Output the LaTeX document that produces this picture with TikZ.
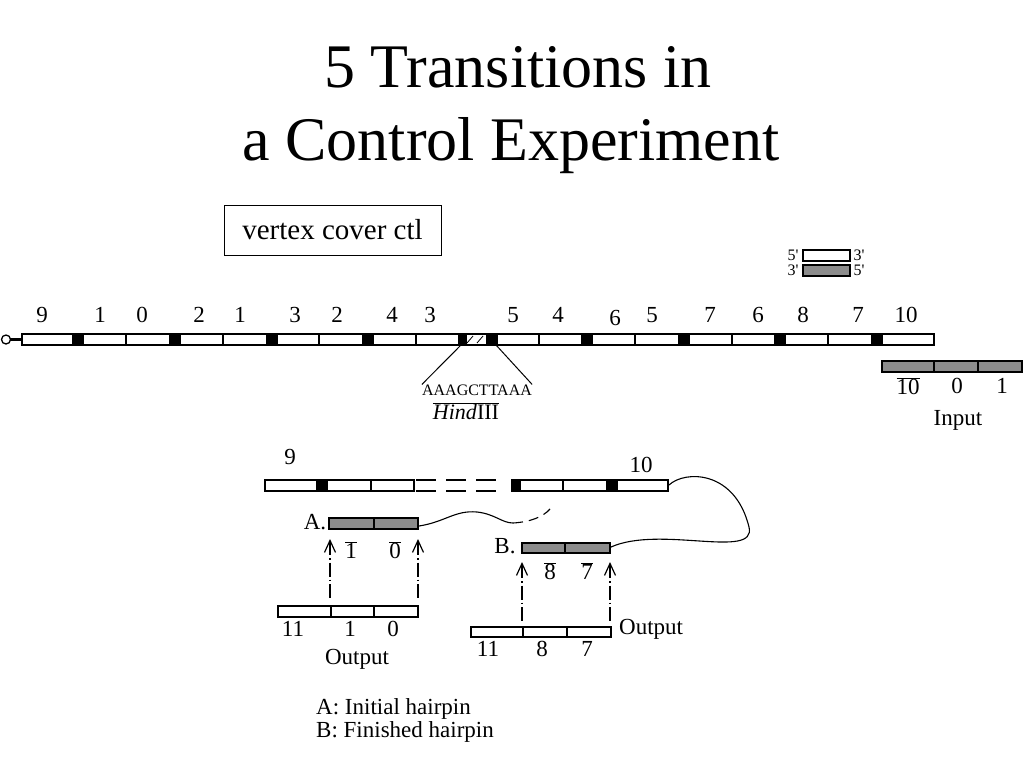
\documentclass[tikz,border=0pt]{standalone}
\usepackage{fontspec}
\setmainfont{Liberation Serif}
\usetikzlibrary{arrows.meta}
\newcommand{\fs}[1]{\fontsize{#1}{#1}\selectfont}
\newcommand{\ovl}[1]{$\overline{\mbox{#1}}$}
\newcommand{\pr}{\textquotesingle}

\begin{document}
\begin{tikzpicture}[x=1pt,y=-1pt,
    strand/.style={draw,line width=1.3pt,fill=white},
    shaded/.style={draw,line width=1.3pt,fill=black!45},
    blk/.style={draw,line width=1.3pt,fill=black},
    lbl/.style={font=\fs{23},inner sep=0pt},
    small/.style={font=\fs{16},inner sep=0pt},
    probe/.style={line width=1.2pt,dash pattern=on 14pt off 3pt on 1.5pt off 3pt,
        {Straight Barb[length=12pt,width=11pt,line width=1.2pt]}-}]
    \useasboundingbox (0,0) rectangle (1024,768);

    % title and box
    \node[font=\fs{62},anchor=base,inner sep=0pt] (title1) at (518,87) {5 Transitions in};
    \node[font=\fs{62},anchor=base,inner sep=0pt] (title2) at (511,160) {a Control Experiment};
    \node[draw,line width=1pt,minimum width=217pt,minimum height=50pt,font=\fs{29}] (ctl) at (332.5,230) {vertex cover ctl};

    % long strand
    \draw[line width=2.5pt] (10,339.5) -- (22,339.5);
    \draw[line width=1.3pt,fill=white] (6,339.5) circle (4.5);
    \draw[strand] (22,334) rectangle (934,345);
    \foreach \x in {126,223,319,416,539,635,732,828}
        \draw[line width=1.3pt] (\x,334) -- (\x,345);
    \foreach \x in {73,170,267,363,582,679,775,872}
        \draw[blk] (\x,334) rectangle ++(10,11);
    \draw[blk] (459,334) rectangle (466,345);
    \draw[blk] (487,334) rectangle (497,345);
    \draw[line width=0.8pt] (467,343) -- (473,336) (477,343) -- (483,336);
    \foreach \x/\t in {42/9,100/1,142/0,199/2,240/1,295/3,337/2,392/4,430/3,
                       513/5,558/4,652/5,710/7,758/6,803/8,858/7,906/10}
        \node[lbl] (top\x) at (\x,315) {\t};
    \node[lbl] (top615) at (615,318) {6};

    % HindIII site
    \coordinate (cutL) at (461,345);
    \coordinate (cutR) at (496,345);
    \node[font=\fs{16},inner sep=0pt] (site) at (477,390) {AAAGCTTAAA};
    \node[font=\fs{22},inner sep=0pt] (hind) at (466,411) {\ovl{\textit{Hind}III}};
    \draw[line width=1pt] (cutL) -- (site.north west);
    \draw[line width=1pt] (cutR) -- (site.north east);

    % 5'/3' key
    \draw[strand] (803,250) rectangle (850,261);
    \draw[shaded] (803,265) rectangle (850,276);
    \node[small] (k1) at (793,255) {5\pr};
    \node[small] (k2) at (859,255) {3\pr};
    \node[small] (k3) at (793,270) {3\pr};
    \node[small] (k4) at (859,270) {5\pr};

    % input
    \draw[shaded] (882,361) rectangle (1022,372);
    \draw[line width=1.3pt] (934,361) -- (934,372) (978,361) -- (978,372);
    \node[lbl] (in1) at (908,386) {\ovl{10}};
    \node[lbl] (in2) at (957,386) {0};
    \node[lbl] (in3) at (1002,386) {1};
    \node[lbl] (input) at (958,420) {Input};

    % hairpin strand
    \draw[strand] (265,480) rectangle (414,491);
    \draw[blk] (317,480) rectangle (327,491);
    \draw[line width=1.3pt] (371,480) -- (371,491);
    \draw[line width=1.3pt,dash pattern=on 20pt off 10pt] (416,480) -- (502,480) (416,491) -- (502,491);
    \draw[strand] (512,480) rectangle (668,491);
    \draw[blk] (512,480) rectangle (520,491);
    \draw[line width=1.3pt] (563,480) -- (563,491);
    \draw[blk] (607,480) rectangle (617,491);
    \node[lbl] (h9) at (290,457) {9};
    \node[lbl] (h10) at (641,465) {10};

    % A: initial hairpin
    \draw[shaded] (329,518) rectangle (418,529);
    \draw[line width=1.3pt] (374,518) -- (374,529);
    \node[lbl] (A) at (315,522) {A.};
    \node[lbl] (a1) at (351,550) {\ovl{1}};
    \node[lbl] (a0) at (395,550) {\ovl{0}};
    \coordinate (aR) at (419,526);
    \coordinate (aW) at (513,523);
    \coordinate (aD) at (550,509);
    \draw[line width=1.1pt] (aR) .. controls (445,522) and (455,510) .. (477,512)
        .. controls (495,514) and (502,523) .. (aW);
    \draw[line width=1.1pt,dash pattern=on 10pt off 6pt] (aW) .. controls (530,522) and (543,517) .. (aD);

    % B: finished hairpin
    \draw[shaded] (522,543) rectangle (610,553);
    \draw[line width=1.3pt] (565,543) -- (565,553);
    \node[lbl] (B) at (505,546) {B.};
    \node[lbl] (b8) at (550,571) {\ovl{8}};
    \node[lbl] (b7) at (587,571) {\ovl{7}};
    \coordinate (hR) at (669,485);
    \coordinate (bR) at (611,547);
    \draw[line width=1.1pt] (hR) .. controls (685,470) and (735,470) .. (749,527)
        .. controls (757,560) and (660,525) .. (bR);

    % outputs
    \draw[strand] (278,606) rectangle (418,617);
    \draw[line width=2pt] (331,606) -- (331,617);
    \draw[line width=1.3pt] (374,606) -- (374,617);
    \node[lbl] (o11) at (293,629) {11};
    \node[lbl] (o1) at (350,629) {1};
    \node[lbl] (o0) at (393,629) {0};
    \node[lbl] (outA) at (357,659) {Output};

    \draw[strand] (471,627) rectangle (611,637);
    \draw[line width=2pt] (523,627) -- (523,637);
    \draw[line width=1.3pt] (567,627) -- (567,637);
    \node[lbl] (p11) at (488,649) {11};
    \node[lbl] (p8) at (542,649) {8};
    \node[lbl] (p7) at (587,649) {7};
    \node[lbl,anchor=west] (outB) at (619,629) {Output};

    % probes
    \coordinate (sA1) at (330,601); \coordinate (eA1) at (330,539);
    \coordinate (sA2) at (418,601); \coordinate (eA2) at (418,539);
    \coordinate (sB1) at (522,623); \coordinate (eB1) at (522,562);
    \coordinate (sB2) at (610,623); \coordinate (eB2) at (610,562);
    \draw[probe] (eA1) -- (sA1);
    \draw[probe] (eA2) -- (sA2);
    \draw[probe] (eB1) -- (sB1);
    \draw[probe] (eB2) -- (sB2);

    % legend
    \node[lbl,anchor=west] (legA) at (316,709) {A: Initial hairpin};
    \node[lbl,anchor=west] (legB) at (316,732) {B: Finished hairpin};
\end{tikzpicture}
\end{document}
